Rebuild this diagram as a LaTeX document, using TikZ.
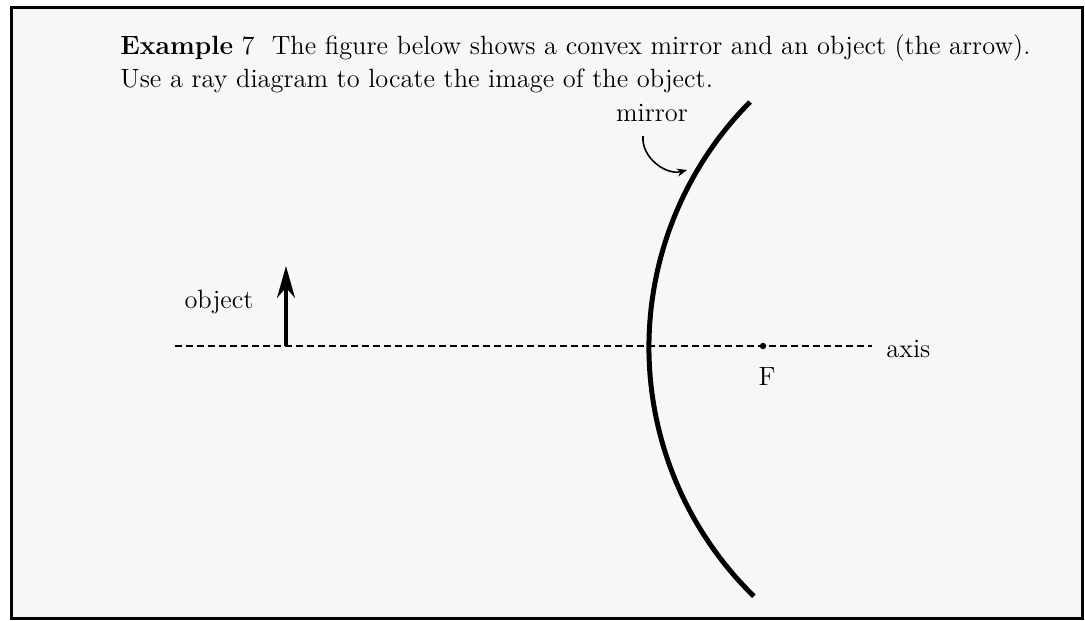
\documentclass[tikz,border=0pt]{standalone}
\usetikzlibrary{arrows.meta, positioning}

\begin{document}
\begin{tikzpicture}[>=Stealth, x=0.5pt, y=-0.5pt,
    txt/.style={font=\fontsize{13.2}{16}\selectfont, inner sep=0pt}]
  % page and frame
  \useasboundingbox (0,0) rectangle (1085,620);
  \fill[white] (0,0) rectangle (1085,620);
  \draw[line width=1.5pt, fill=black!3] (11,8) rectangle (1082,618);

  % question text
  \node[txt, anchor=base west] (line1) at (120,55)
    {\textbf{Example} 7\ \ The figure below shows a convex mirror and an object (the arrow).};
  \node[txt, anchor=base west] (line2) at (120,88)
    {Use a ray diagram to locate the image of the object.};

  % axis and focal point
  \coordinate (axl) at (175,346);
  \coordinate (axr) at (872,346);
  \draw[line width=0.8pt, dash pattern=on 3.5pt off 2pt] (axl) -- (axr);
  \node[txt, anchor=west] (axis) at (886,349) {axis};
  \fill (763,346) circle[radius=1.6pt] coordinate (F);
  \node[txt] (Flabel) at (767,377) {F};

  % object
  \coordinate (obase) at (286,346);
  \coordinate (otip) at (286,266);
  \draw[line width=1.6pt, -{Stealth[length=16pt, width=9pt]}] (obase) -- (otip);
  \node[txt] (object) at (219,302) {object};

  % mirror
  \coordinate (mtop) at (750,102);
  \draw[line width=2.5pt] (mtop) arc[start angle=135.2, end angle=225.7, radius=174pt];
  \node[txt] (mirror) at (652,113) {mirror};
  \coordinate (mhit) at (687,170);
  \draw[line width=0.8pt, -{Stealth[length=5pt, width=4pt]}]
    (643,136) to[out=-95, in=195] (mhit);
\end{tikzpicture}
\end{document}
